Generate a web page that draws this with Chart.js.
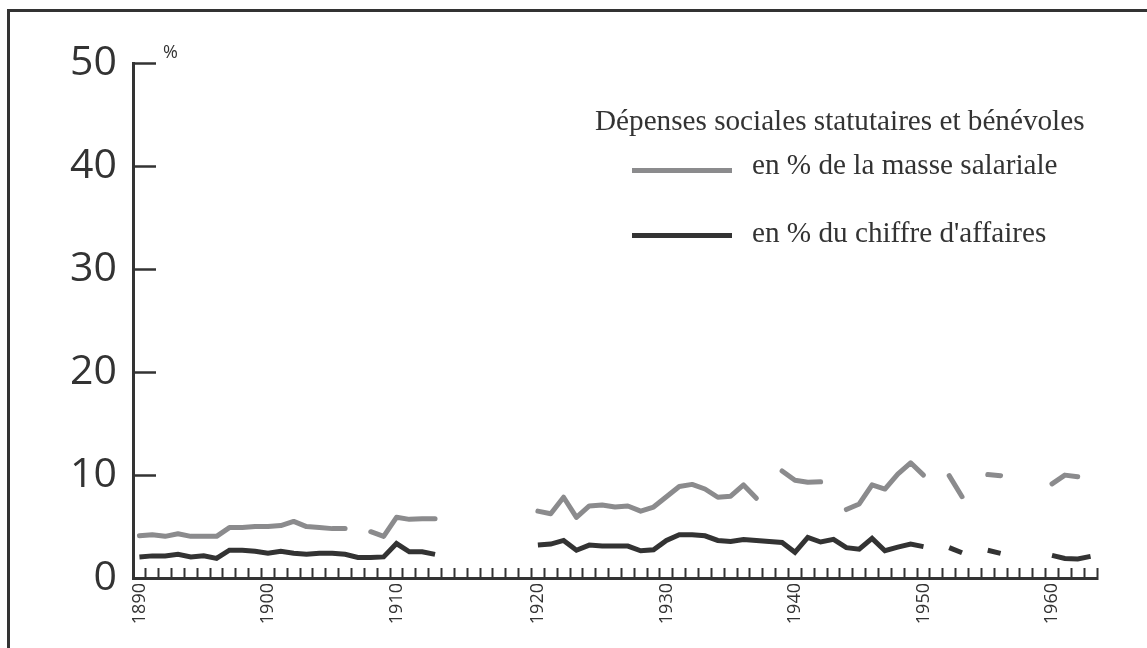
<!DOCTYPE html>
<html lang="fr">
<head>
<meta charset="utf-8">
<title>Dépenses sociales statutaires et bénévoles</title>
<script src="https://cdn.jsdelivr.net/npm/chart.js@4.4.1/dist/chart.umd.min.js"></script>
<style>
  html, body { margin: 0; padding: 0; background: #fff; }
  #wrap { position: relative; width: 1147px; height: 648px; overflow: hidden; }
  #frame {
    position: absolute; left: 7px; top: 9px; right: -10px; bottom: -10px;
    border-top: 3px solid #333; border-left: 3px solid #333;
    pointer-events: none;
  }
  .legend { position: absolute; font-family: 'Liberation Serif', 'Times New Roman', serif; font-size: 29.2px; line-height: 29.2px; color: #333; white-space: nowrap; }
  .swatch { position: absolute; width: 100px; height: 5px; }
  #unit { position: absolute; left: 163px; top: 42px; font-family: 'Open Sans', sans-serif; font-size: 18px; line-height: 18px; color: #333; }
</style>
</head>
<body>
<div id="wrap">
  <canvas id="chart" width="1147" height="648"></canvas>
  <div id="frame"></div>
  <div id="unit">%</div>
  <div class="legend" style="left:595px; top:106px;">Dépenses sociales statutaires et bénévoles</div>
  <div class="swatch" style="left:632px; top:168px; background:#8b8b8d;"></div>
  <div class="legend" style="left:752px; top:150px;">en % de la masse salariale</div>
  <div class="swatch" style="left:632px; top:233px; background:#333;"></div>
  <div class="legend" style="left:752px; top:218px;">en % du chiffre d'affaires</div>
</div>
<script>
// one slot per year; the drawn axis has one extra unlabeled tick in the 1910s
const xLabels = [
  '1890', '1891', '1892', '1893', '1894', '1895', '1896', '1897', '1898', '1899',
  '1900', '1901', '1902', '1903', '1904', '1905', '1906', '1907', '1908', '1909',
  '1910', '1911', '1912', '1913', '1914', '1915', '1916', '', '1917', '1918', '1919',
  '1920', '1921', '1922', '1923', '1924', '1925', '1926', '1927', '1928', '1929',
  '1930', '1931', '1932', '1933', '1934', '1935', '1936', '1937', '1938', '1939',
  '1940', '1941', '1942', '1943', '1944', '1945', '1946', '1947', '1948', '1949',
  '1950', '1951', '1952', '1953', '1954', '1955', '1956', '1957', '1958', '1959',
  '1960', '1961', '1962', '1963'
];

// en % de la masse salariale
const masseSalariale = [
  4.1, 4.2, 4.05, 4.3, 4.05, 4.05, 4.05, 4.9, 4.9, 5.0,
  5.0, 5.1, 5.5, 5.0, 4.9, 4.8, 4.8, null, 4.5, 4.05,
  5.9, 5.7, 5.75, 5.75, null, null, null, null, null, null, null,
  6.5, 6.25, 7.85, 5.9, 7.0, 7.1, 6.9, 7.0, 6.5, 6.9,
  7.9, 8.9, 9.1, 8.65, 7.85, 7.95, 9.05, 7.75, null, 10.4,
  9.5, 9.3, 9.35, null, 6.65, 7.2, 9.05, 8.65, 10.1, 11.2,
  10.0, null, 9.95, 7.9, null, 10.05, 9.95, null, null, null,
  9.15, 10.0, 9.85, null
];

// en % du chiffre d'affaires
const chiffreAffaires = [
  2.05, 2.15, 2.15, 2.3, 2.05, 2.15, 1.9, 2.7, 2.7, 2.6,
  2.4, 2.6, 2.4, 2.3, 2.4, 2.4, 2.3, 2.0, 2.0, 2.05,
  3.35, 2.55, 2.55, 2.3, null, null, null, null, null, null, null,
  3.2, 3.3, 3.65, 2.7, 3.2, 3.1, 3.1, 3.1, 2.65, 2.75,
  3.65, 4.2, 4.2, 4.1, 3.65, 3.55, 3.75, 3.65, 3.55, 3.45,
  2.5, 3.95, 3.5, 3.75, 2.95, 2.8, 3.85, 2.65, 3.0, 3.3,
  3.05, null, 2.95, 2.45, null, 2.7, 2.4, null, null, null,
  2.2, 1.9, 1.85, 2.1
];

const yTicks = [0, 10, 20, 30, 40, 50];

const ctx = document.getElementById('chart').getContext('2d');
new Chart(ctx, {
  type: 'line',
  data: {
    labels: xLabels,
    datasets: [
      {
        label: 'en % de la masse salariale',
        data: masseSalariale,
        borderColor: '#8b8b8d',
        borderWidth: 5,
        borderCapStyle: 'round',
        borderJoinStyle: 'round',
        pointRadius: 0,
        tension: 0,
        spanGaps: false,
      },
      {
        label: "en % du chiffre d'affaires",
        data: chiffreAffaires,
        borderColor: '#333333',
        borderWidth: 5,
        borderCapStyle: 'butt',
        borderJoinStyle: 'miter',
        pointRadius: 0,
        tension: 0,
        spanGaps: false,
      },
    ],
  },
  options: {
    responsive: false,
    devicePixelRatio: 1,
    animation: false,
    layout: { padding: { top: 60, right: 50, bottom: 0, left: 0 } },
    plugins: {
      legend: { display: false },
      tooltip: { enabled: false },
    },
    scales: {
      x: {
        type: 'category',
        offset: true,
        grid: {
          offset: true,
          drawOnChartArea: false,
          tickLength: -10,
          tickWidth: 2,
          tickColor: '#333',
        },
        border: { color: '#333', width: 3 },
        ticks: {
          autoSkip: false,
          minRotation: 90,
          maxRotation: 90,
          padding: 15,
          color: '#333',
          font: { family: 'Open Sans', size: 18 },
          callback: function (value) {
            const label = this.getLabelForValue(value);
            return label !== '' && Number(label) % 10 === 0 ? label : '';
          },
        },
        afterFit: (scale) => { scale.height = 70; },
      },
      y: {
        min: 0,
        max: 50,
        afterBuildTicks: (scale) => { scale.ticks = yTicks.map(v => ({ value: v })); },
        grid: {
          drawOnChartArea: false,
          tickLength: -23,
          tickWidth: 2.5,
          tickColor: '#333',
        },
        border: { color: '#333', width: 3 },
        ticks: {
          padding: 39,
          color: '#333',
          font: { family: 'Open Sans', size: 41 },
        },
        afterFit: (scale) => { scale.width = 133; },
      },
    },
  },
});
</script>
</body>
</html>
